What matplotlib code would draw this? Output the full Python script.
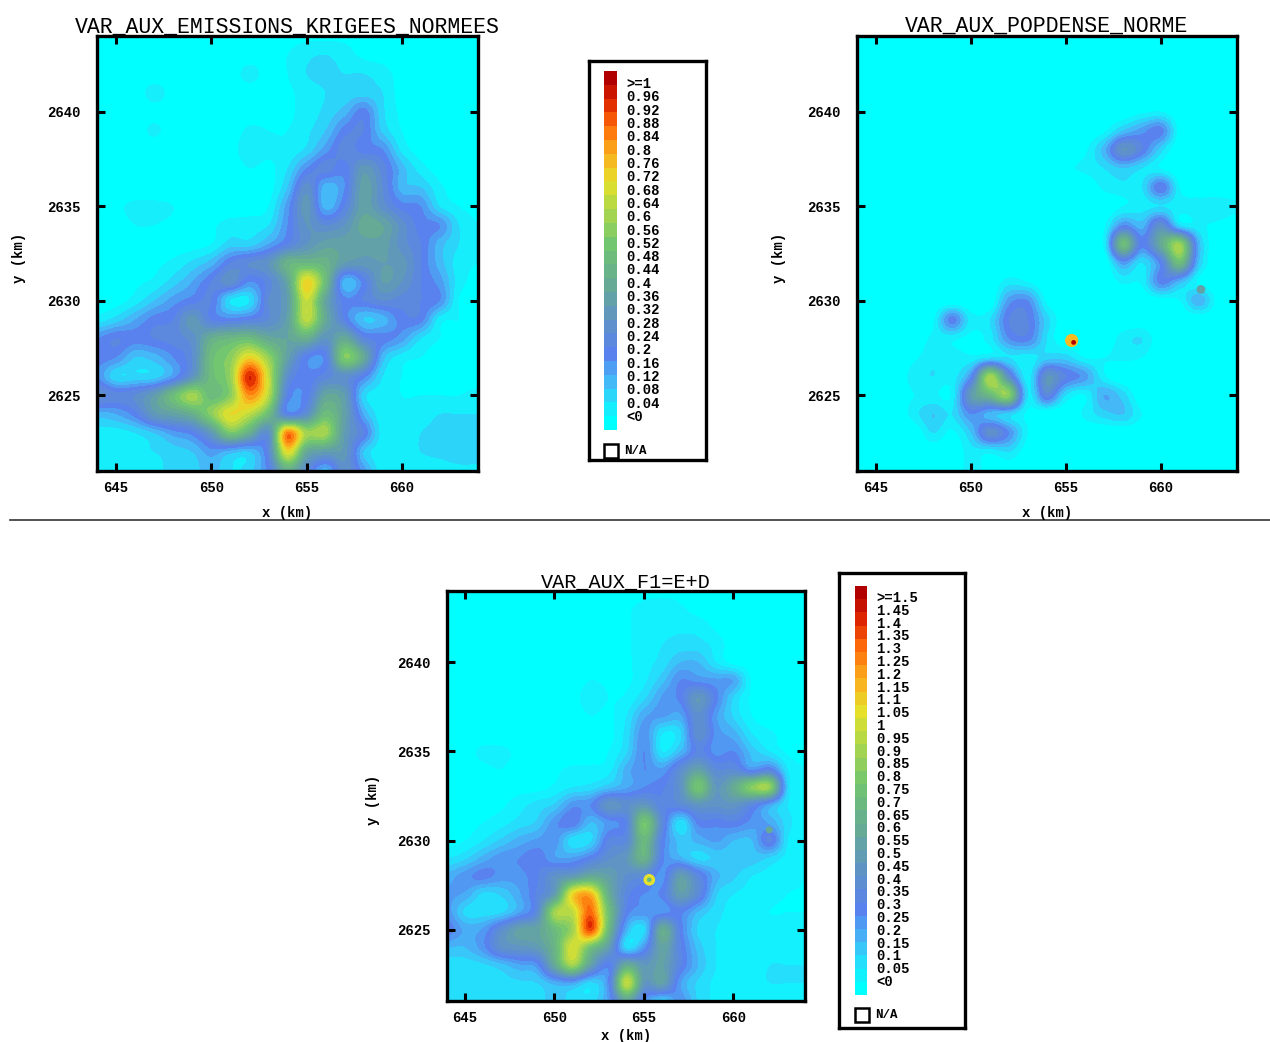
# -*- coding: utf-8 -*-
"""
Three kriged maps with their colour legends
"""
import numpy as np
from matplotlib import pyplot as plt
from matplotlib.colors import LinearSegmentedColormap, BoundaryNorm
from matplotlib.lines import Line2D
from matplotlib.patches import Rectangle

W, H = 1270, 1042

plt.rcParams['font.family'] = ['Liberation Mono', 'DejaVu Sans Mono']
plt.rcParams['font.weight'] = 'bold'

# --- data. columns x = 644..664 km, rows y = 2644..2621 km ---
x_km = [644, 645, 646, 647, 648, 649, 650, 651, 652, 653, 654, 655, 656, 657, 658, 659, 660, 661, 662, 663, 664]
y_km = [2644, 2643, 2642, 2641, 2640, 2639, 2638, 2637, 2636, 2635, 2634, 2633,
        2632, 2631, 2630, 2629, 2628, 2627, 2626, 2625, 2624, 2623, 2622, 2621]

emissions = [
    [1, 1, 1, 1, 1, 1, 1, 1, 1, 1, 2, 3, 3, 3, 2, 1, 1, 1, 1, 1, 1],
    [1, 1, 1, 1, 1, 1, 1, 1, 1, 2, 4, 7, 8, 6, 3, 2, 1, 1, 1, 1, 1],
    [1, 1, 1, 1, 1, 1, 1, 1, 6, 2, 4, 8, 9, 8, 8, 6, 2, 1, 1, 1, 1],
    [1, 1, 1, 6, 2, 1, 1, 1, 1, 1, 3, 6, 8, 9, 10, 8, 2, 1, 1, 1, 1],
    [1, 1, 1, 2, 1, 1, 1, 1, 1, 2, 3, 6, 9, 14, 22, 9, 3, 1, 1, 1, 1],
    [1, 1, 1, 5, 1, 1, 1, 1, 5, 4, 4, 7, 12, 22, 24, 11, 4, 1, 1, 1, 1],
    [1, 1, 1, 1, 1, 1, 1, 2, 7, 5, 5, 9, 18, 26, 22, 20, 7, 2, 1, 1, 1],
    [1, 1, 1, 1, 1, 1, 1, 1, 4, 3, 8, 20, 26, 22, 34, 26, 14, 6, 2, 1, 1],
    [1, 1, 1, 1, 1, 1, 1, 1, 1, 2, 12, 30, 14, 20, 38, 28, 14, 12, 5, 2, 2],
    [1, 3, 5, 5, 4, 1, 1, 1, 2, 4, 18, 34, 14, 24, 38, 30, 22, 20, 8, 4, 3],
    [1, 2, 4, 4, 3, 1, 3, 6, 6, 8, 20, 32, 28, 32, 42, 40, 30, 22, 20, 8, 4],
    [1, 1, 2, 2, 2, 2, 4, 10, 10, 16, 24, 32, 38, 38, 38, 38, 30, 24, 14, 8, 5],
    [1, 1, 2, 3, 5, 9, 14, 24, 28, 32, 46, 48, 46, 36, 34, 36, 34, 24, 14, 6, 4],
    [1, 1, 3, 5, 10, 16, 24, 30, 20, 26, 40, 74, 50, 14, 22, 36, 32, 24, 18, 6, 3],
    [1, 2, 6, 12, 18, 22, 24, 8, 8, 28, 36, 68, 40, 22, 24, 28, 26, 24, 20, 4, 3],
    [6, 10, 16, 22, 24, 34, 24, 22, 24, 28, 38, 66, 42, 24, 12, 14, 22, 22, 6, 4, 3],
    [20, 24, 22, 24, 26, 30, 44, 48, 50, 42, 40, 44, 32, 42, 26, 22, 18, 8, 4, 3, 3],
    [22, 20, 12, 14, 20, 28, 50, 58, 74, 60, 38, 22, 22, 56, 42, 14, 6, 4, 3, 3, 3],
    [20, 9, 9, 10, 18, 32, 50, 60, 96, 68, 30, 22, 26, 30, 22, 8, 4, 3, 2, 3, 3],
    [30, 26, 28, 36, 50, 62, 50, 58, 84, 66, 24, 22, 40, 36, 10, 6, 4, 4, 4, 4, 5],
    [14, 16, 22, 34, 38, 44, 58, 72, 66, 50, 24, 30, 50, 38, 16, 5, 5, 6, 8, 8, 8],
    [6, 6, 8, 12, 18, 22, 34, 54, 44, 30, 86, 62, 62, 36, 24, 6, 5, 8, 9, 9, 9],
    [5, 6, 7, 8, 10, 12, 18, 14, 12, 26, 72, 42, 36, 34, 12, 5, 5, 8, 9, 10, 10],
    [5, 5, 6, 7, 9, 10, 14, 8, 10, 22, 44, 28, 14, 30, 18, 5, 5, 5, 6, 7, 7],
]

popdense = [
    [0, 0, 0, 0, 0, 0, 0, 0, 0, 0, 0, 0, 0, 0, 0, 0, 0, 0, 0, 0, 0],
    [0, 0, 0, 0, 0, 0, 0, 0, 0, 0, 0, 0, 0, 0, 0, 0, 0, 0, 0, 0, 0],
    [0, 0, 0, 0, 0, 0, 0, 0, 0, 0, 0, 0, 0, 0, 0, 0, 0, 0, 0, 0, 0],
    [0, 0, 0, 0, 0, 0, 0, 0, 0, 0, 0, 0, 0, 0, 0, 0, 0, 0, 0, 0, 0],
    [0, 0, 0, 0, 0, 0, 0, 0, 0, 0, 0, 0, 0, 0, 0, 3, 4, 0, 0, 0, 0],
    [0, 0, 0, 0, 0, 0, 0, 0, 0, 0, 0, 0, 0, 3, 12, 18, 22, 2, 0, 0, 0],
    [0, 0, 0, 0, 0, 0, 0, 0, 0, 0, 0, 0, 3, 14, 32, 24, 10, 0, 0, 0, 0],
    [0, 0, 0, 0, 0, 0, 0, 0, 0, 0, 0, 3, 5, 8, 12, 8, 4, 0, 0, 0, 0],
    [0, 0, 0, 0, 0, 0, 0, 0, 0, 0, 0, 0, 0, 5, 7, 8, 24, 4, 0, 0, 0],
    [0, 0, 0, 0, 0, 0, 0, 0, 0, 0, 0, 0, 0, 0, 4, 6, 8, 6, 7, 7, 5],
    [0, 0, 0, 0, 0, 0, 0, 0, 0, 0, 0, 0, 0, 3, 20, 14, 30, 8, 5, 3, 1],
    [0, 0, 0, 0, 0, 0, 0, 0, 0, 0, 0, 0, 0, 5, 50, 22, 42, 60, 14, 0, 0],
    [0, 0, 0, 0, 0, 0, 0, 0, 0, 0, 0, 0, 0, 0, 18, 8, 22, 50, 12, 0, 0],
    [0, 0, 0, 0, 0, 0, 0, 0, 6, 4, 0, 0, 0, 0, 5, 5, 22, 14, 3, 0, 0],
    [0, 0, 0, 0, 0, 0, 0, 0, 18, 20, 3, 0, 0, 0, 0, 0, 2, 4, 15, 2, 0],
    [0, 0, 0, 0, 3, 22, 6, 8, 24, 24, 10, 0, 0, 0, 0, 0, 0, 0, 0, 0, 0],
    [0, 0, 0, 0, 5, 5, 3, 6, 20, 22, 8, 0, 0, 0, 6, 8, 0, 0, 0, 0, 0],
    [0, 0, 0, 3, 7, 6, 5, 8, 8, 6, 10, 10, 4, 4, 5, 4, 0, 0, 0, 0, 0],
    [0, 0, 0, 6, 8, 6, 20, 62, 30, 6, 32, 24, 18, 5, 0, 0, 0, 0, 0, 0, 0],
    [0, 0, 0, 4, 5, 5, 35, 48, 58, 8, 26, 8, 4, 16, 10, 0, 0, 0, 0, 0, 0],
    [0, 0, 0, 6, 12, 8, 20, 14, 10, 3, 0, 0, 5, 10, 12, 4, 0, 0, 0, 0, 0],
    [0, 0, 0, 0, 8, 3, 12, 30, 20, 4, 0, 0, 0, 0, 0, 0, 0, 0, 0, 0, 0],
    [0, 0, 0, 0, 0, 0, 6, 5, 8, 1, 0, 0, 0, 0, 0, 0, 0, 0, 0, 0, 0],
    [0, 0, 0, 0, 0, 0, 6, 2, 0, 0, 0, 0, 0, 0, 0, 0, 0, 0, 0, 0, 0],
]

# spots narrower than the 1 km grid: x, y, value, marker size
pop_spot_x = [655.3, 655.4, 662.1]
pop_spot_y = [2627.9, 2627.8, 2630.6]
pop_spot_v = [76, 100, 36]
pop_spot_s = [90, 12, 40]

f1 = [
    [2, 2, 2, 2, 2, 2, 2, 2, 2, 2, 2, 3, 3, 3, 2, 2, 2, 2, 2, 2, 2],
    [2, 2, 2, 2, 2, 2, 2, 2, 2, 2, 4, 7, 9, 6, 3, 2, 2, 2, 2, 2, 2],
    [2, 2, 2, 2, 2, 2, 2, 2, 3, 2, 4, 8, 9, 9, 8, 4, 2, 2, 2, 2, 2],
    [2, 2, 2, 2, 2, 2, 2, 2, 2, 2, 4, 8, 10, 12, 12, 8, 2, 2, 2, 2, 2],
    [2, 2, 2, 2, 2, 2, 2, 2, 2, 2, 4, 8, 12, 20, 20, 10, 3, 2, 2, 2, 2],
    [2, 2, 2, 2, 2, 2, 2, 2, 5, 4, 4, 9, 18, 30, 28, 26, 24, 4, 2, 2, 2],
    [2, 2, 2, 2, 2, 2, 2, 3, 8, 5, 6, 14, 26, 32, 50, 32, 14, 4, 2, 2, 2],
    [2, 2, 2, 2, 2, 2, 2, 2, 5, 4, 10, 24, 26, 24, 44, 26, 14, 5, 2, 2, 2],
    [2, 2, 2, 2, 2, 2, 2, 2, 2, 3, 12, 28, 10, 14, 44, 28, 22, 10, 6, 3, 2],
    [2, 3, 6, 6, 4, 2, 2, 2, 3, 5, 14, 30, 10, 20, 36, 28, 30, 18, 10, 4, 3],
    [2, 3, 4, 5, 3, 2, 4, 6, 6, 8, 22, 30, 26, 42, 56, 40, 40, 28, 34, 10, 5],
    [2, 2, 3, 3, 3, 3, 6, 10, 12, 18, 24, 30, 34, 46, 80, 50, 64, 86, 88, 14, 6],
    [2, 2, 3, 4, 8, 12, 16, 28, 30, 48, 44, 50, 36, 40, 48, 46, 48, 38, 24, 10, 6],
    [2, 3, 5, 8, 12, 16, 28, 34, 20, 28, 36, 80, 40, 12, 32, 32, 34, 28, 24, 12, 6],
    [3, 5, 10, 16, 22, 26, 28, 12, 14, 36, 40, 72, 34, 18, 22, 26, 20, 20, 36, 10, 6],
    [10, 14, 22, 28, 30, 34, 26, 26, 34, 44, 50, 68, 32, 22, 14, 16, 18, 18, 14, 8, 6],
    [22, 28, 32, 28, 28, 34, 46, 52, 62, 56, 44, 40, 28, 54, 38, 22, 16, 10, 8, 6, 5],
    [26, 24, 14, 16, 24, 36, 54, 110, 118, 66, 38, 30, 32, 54, 40, 16, 10, 8, 6, 5, 5],
    [28, 14, 12, 14, 24, 40, 92, 100, 132, 78, 34, 28, 28, 32, 20, 12, 8, 6, 5, 5, 5],
    [34, 24, 26, 42, 56, 58, 74, 92, 138, 74, 22, 14, 64, 34, 14, 10, 8, 6, 6, 6, 6],
    [20, 20, 28, 44, 48, 52, 70, 104, 78, 54, 14, 28, 58, 36, 18, 10, 8, 8, 9, 9, 9],
    [12, 12, 14, 18, 24, 28, 62, 92, 56, 32, 64, 50, 56, 36, 20, 10, 9, 9, 10, 10, 10],
    [11, 12, 12, 13, 14, 15, 22, 24, 14, 30, 100, 50, 56, 26, 14, 9, 9, 9, 10, 10, 10],
    [10, 10, 10, 11, 12, 12, 18, 12, 12, 26, 60, 30, 16, 28, 14, 9, 8, 8, 8, 8, 8],
]
f1_spot_x = [655.3, 655.3, 662.0]
f1_spot_y = [2627.8, 2627.8, 2630.6]
f1_spot_v = [105, 70, 62]
f1_spot_s = [70, 12, 25]

x_ticks = [645, 650, 655, 660]
y_ticks = [2625, 2630, 2635, 2640]
titles = ['VAR_AUX_EMISSIONS_KRIGEES_NORMEES', 'VAR_AUX_POPDENSE_NORME', 'VAR_AUX_F1=E+D']

labels_1 = ['>=1', '0.96', '0.92', '0.88', '0.84', '0.8', '0.76', '0.72', '0.68', '0.64', '0.6', '0.56', '0.52',
            '0.48', '0.44', '0.4', '0.36', '0.32', '0.28', '0.24', '0.2', '0.16', '0.12', '0.08', '0.04', '<0']
levels_1 = [100, 96, 92, 88, 84, 80, 76, 72, 68, 64, 60, 56, 52, 48, 44, 40, 36, 32, 28, 24, 20, 16, 12, 8, 4, 0]

labels_2 = ['>=1.5', '1.45', '1.4', '1.35', '1.3', '1.25', '1.2', '1.15', '1.1', '1.05', '1', '0.95', '0.9', '0.85',
            '0.8', '0.75', '0.7', '0.65', '0.6', '0.55', '0.5', '0.45', '0.4', '0.35', '0.3', '0.25', '0.2', '0.15',
            '0.1', '0.05', '<0']
levels_2 = [150, 145, 140, 135, 130, 125, 120, 115, 110, 105, 100, 95, 90, 85, 80, 75, 70, 65, 60, 55, 50, 45, 40,
            35, 30, 25, 20, 15, 10, 5, 0]

colour_stops = [(0.0, '#00ffff'), (0.05, '#1ceafc'), (0.12, '#45b8f8'), (0.2, '#5a82ee'), (0.3, '#5f94c4'),
                (0.4, '#66aa96'), (0.52, '#72c670'), (0.62, '#aed84a'), (0.7, '#e6e22c'), (0.78, '#fbae1e'),
                (0.86, '#ff6e0a'), (0.93, '#e02800'), (1.0, '#b00000')]
jet_like = LinearSegmentedColormap.from_list('jet_like', colour_stops, N=256)


def px_axes(left, top, right, bottom):
    # axes placed with picture pixels, origin top left
    return fig.add_axes([left / W, 1 - bottom / H, (right - left) / W, (bottom - top) / H])


def draw_map(box, values, levels, title, title_y, title_size, xlabel_y, ylabel_x, spots=None):
    ax = px_axes(*box)
    bounds = sorted(levels)
    cmap = jet_like.resampled(len(bounds))
    norm = BoundaryNorm(bounds + [bounds[-1] * 1.5], cmap.N)
    ax.imshow(values, cmap=cmap, norm=norm, aspect='auto', interpolation='catrom', interpolation_stage='data',
              extent=(x_km[0] - 0.5, x_km[-1] + 0.5, y_km[-1] - 0.5, y_km[0] + 0.5))
    if spots is not None:
        ax.scatter(spots[0], spots[1], c=spots[2], s=spots[3], cmap=cmap, norm=norm, linewidths=0)
    ax.set_xlim(644, 664)
    ax.set_ylim(2621, 2644)
    ax.set_xticks(x_ticks)
    ax.set_yticks(y_ticks)
    ax.tick_params(axis='x', direction='in', length=6, width=2.2, top=True, labelsize=10, pad=7)
    ax.tick_params(axis='y', direction='in', length=6, width=2.2, right=True, labelsize=10, pad=12)
    for s in ax.spines.values():
        s.set_linewidth(2.4)
    mid_x = (box[0] + box[2]) / 2
    mid_y = (box[1] + box[3]) / 2
    fig.text(mid_x / W, 1 - xlabel_y / H, 'x (km)', fontsize=10, ha='center', va='center')
    fig.text(ylabel_x / W, 1 - (mid_y + 4) / H, 'y (km)', fontsize=10, ha='center', va='center', rotation=90)
    fig.text(mid_x / W, 1 - title_y / H, title, fontsize=title_size, ha='center', va='center', fontweight='normal')
    return ax


def draw_legend(box, bar, labels, levels, first_y, last_y, na_y):
    ax = px_axes(*box)
    ax.set_xticks([])
    ax.set_yticks([])
    for s in ax.spines.values():
        s.set_linewidth(2.4)
    ax_bar = px_axes(*bar)
    vals = np.array(levels[::-1]).reshape(-1, 1)
    ax_bar.imshow(vals, cmap=jet_like, vmin=0, vmax=max(levels), origin='lower', aspect='auto')
    ax_bar.axis('off')
    for lab, y in zip(labels, np.linspace(first_y, last_y, len(labels))):
        fig.text((bar[2] + 9) / W, 1 - y / H, lab, fontsize=10, va='center', ha='left')
    fig.patches.append(Rectangle((bar[0] / W, 1 - (na_y + 7) / H), 14 / W, 14 / H, transform=fig.transFigure,
                                 fill=False, edgecolor='black', linewidth=1.8))
    fig.text((bar[0] + 20) / W, 1 - na_y / H, 'N/A', fontsize=9, va='center', ha='left')


fig = plt.figure(figsize=(W / 100, H / 100), dpi=100)

draw_map((97, 36, 478, 471), emissions, levels_1, titles[0], 27, 15.5, 513, 19)
draw_map((857, 36, 1237, 471), popdense, levels_1, titles[1], 26, 15.5, 513, 779,
         (pop_spot_x, pop_spot_y, pop_spot_v, pop_spot_s))
draw_map((447, 591, 805, 1001), f1, levels_2, titles[2], 582, 14.6, 1036, 373,
         (f1_spot_x, f1_spot_y, f1_spot_v, f1_spot_s))

draw_legend((589, 61, 706, 460), (604, 71, 617, 430), labels_1, levels_1, 84, 417, 451)
draw_legend((839, 573, 965, 1028), (855, 586, 867, 995), labels_2, levels_2, 598, 982, 1015)

# separator between the two rows
fig.add_artist(Line2D([10 / W, 1], [1 - 520 / H, 1 - 520 / H], color='#333333', linewidth=1.2))

plt.savefig('out.png', dpi=100)
